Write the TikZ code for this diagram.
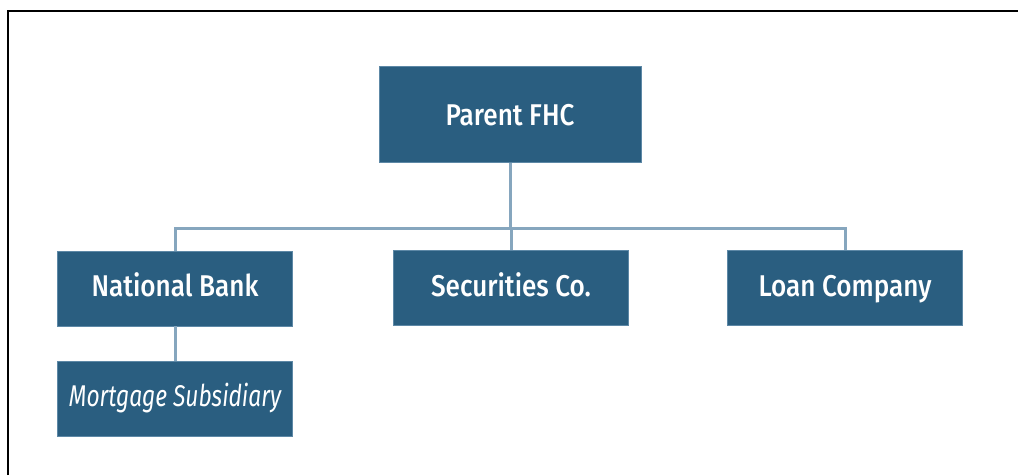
\documentclass[tikz,border=0pt]{standalone}
\usepackage{fontspec}
\newfontfamily\boxfont{Fira Sans Medium}[FakeStretch=0.87]
\newfontfamily\subfont{Fira Sans}[FakeStretch=0.76]
\definecolor{boxblue}{HTML}{2A5E80}
\definecolor{boxedge}{HTML}{5D88A6}
\definecolor{linkblue}{HTML}{86A6BE}
\tikzset{
  unit/.style={fill=boxblue, draw=boxedge, line width=0.6pt, text=white,
    minimum width=235pt, minimum height=75pt, inner sep=0pt,
    text height=22pt, text depth=6pt,
    font=\boxfont\fontsize{30}{36}\selectfont},
  link/.style={draw=linkblue, line width=3pt}
}
\begin{document}
\begin{tikzpicture}[x=1pt,y=-1pt]
  \useasboundingbox (0,0) rectangle (1018,475);
  % frame (only top and left edges show)
  \draw[black, line width=2pt] (7.5,475) -- (7.5,10.5) -- (1018,10.5);

  % holding company
  \node[unit, minimum width=262pt, minimum height=96pt, text depth=0pt] (parent) at (510,114.5) {Parent FHC};

  % subsidiaries
  \node[unit] (bank) at (175,288.5) {National Bank};
  \node[unit] (sec)  at (511,288)   {Securities Co.};
  \node[unit] (loan) at (845,288)   {Loan Company};
  \node[unit, font=\subfont\itshape\fontsize{30}{36}\selectfont] (mort) at (175,398.5) {Mortgage Subsidiary};

  % connectors
  \coordinate (bus) at (0,228.5);
  \draw[link] (parent.south) -- (parent.south |- bus);
  \draw[link] (bank.north) -- (bank.north |- bus) -- (loan.north |- bus) -- (loan.north);
  \draw[link] (sec.north) -- (sec.north |- bus);
  \draw[link] (bank.south) -- (mort.north);
\end{tikzpicture}
\end{document}
